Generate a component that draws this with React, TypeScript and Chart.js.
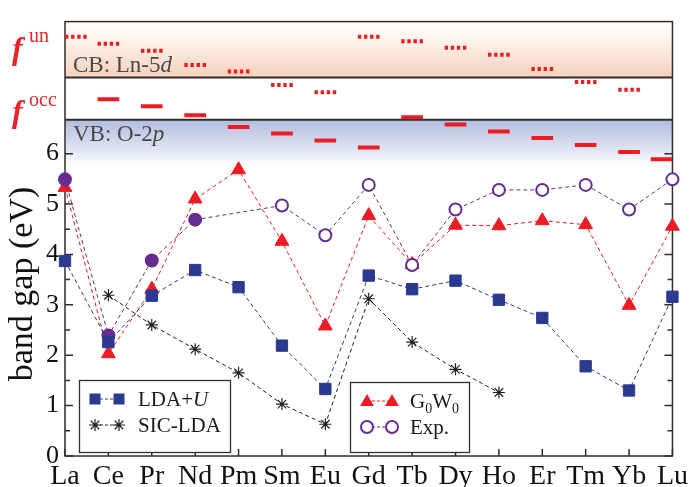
import React, { useEffect, useRef } from 'react';
import { Chart, registerables } from 'chart.js';

Chart.register(...registerables);

// ---------------- data ----------------
const ELEMENTS = ['La', 'Ce', 'Pr', 'Nd', 'Pm', 'Sm', 'Eu', 'Gd', 'Tb', 'Dy', 'Ho', 'Er', 'Tm', 'Yb', 'Lu'];
const LDA_U = [3.87, 2.26, 3.18, 3.69, 3.35, 2.19, 1.33, 3.58, 3.31, 3.48, 3.10, 2.74, 1.78, 1.30, 3.16];
const G0W0 = [5.33, 2.03, 3.31, 5.10, 5.68, 4.26, 2.58, 4.77, 3.80, 4.58, 4.57, 4.67, 4.59, 2.99, 4.56];
const EXP = [5.49, 2.39, 3.88, 4.69, null, 4.97, 4.38, 5.38, 3.79, 4.89, 5.28, 5.28, 5.38, 4.89, 5.49];
const SIC_LDA = [null, 3.19, 2.60, 2.12, 1.65, 1.03, 0.63, 3.12, 2.26, 1.72, 1.26, null, null, null, null];
const F_UNOCC = [8.32, 8.18, 8.04, 7.76, 7.63, 7.36, 7.22, 8.32, 8.23, 8.10, 7.96, 7.68, 7.42, 7.27, null];
const F_OCC = [null, 7.08, 6.94, 6.76, 6.53, 6.40, 6.26, 6.12, 6.72, 6.58, 6.44, 6.31, 6.17, 6.03, 5.89];
const CB_EDGE = 7.51;
const VB_EDGE = 6.67;
const VB_FADE = 5.6;
const Y_MAX = 8.62;
const Y_TICK_MAX = 6;
const Y_TICK_STEP = 0.5;

// ---------------- styles ----------------
const BLUE = '#2B3990';
const RED = '#ED1C24';
const PURPLE = '#662D91';
const BLACK = '#231F20';
const AXIS = '#2E2E2E';
const SERIF = '"Liberation Serif", "Times New Roman", serif';
const EXP_FILLED = [true, true, true, true, false, false, false, false, false, false, false, false, false, false, false];

const toPoints = (arr: (number | null)[]) => arr.map((v, i) => ({ x: i, y: v }));

function levelSegments(values: (number | null)[], half = 0.25) {
  const n = values.length;
  const pts: { x: number; y: number | null }[] = [];
  values.forEach((v, i) => {
    if (v == null) return;
    let a = i - half;
    let b = i + half;
    if (a < 0) { b -= a; a = 0; }
    if (b > n - 1) { a -= b - (n - 1); b = n - 1; }
    pts.push({ x: a, y: v }, { x: b, y: v }, { x: b, y: null });
  });
  return pts;
}

type Part = { t: string; f: string; dy?: number };
function drawRich(ctx: CanvasRenderingContext2D, x: number, y: number, parts: Part[]) {
  let cx = x;
  for (const p of parts) {
    ctx.font = p.f;
    ctx.fillText(p.t, cx, y + (p.dy || 0));
    cx += ctx.measureText(p.t).width;
  }
}

function mSquare(ctx: CanvasRenderingContext2D, x: number, y: number, s: number) {
  ctx.fillStyle = BLUE;
  ctx.fillRect(x - s / 2, y - s / 2, s, s);
}
function mTriangle(ctx: CanvasRenderingContext2D, x: number, y: number, r: number) {
  const k = Math.sin((2 * Math.PI) / 3) * r;
  ctx.fillStyle = RED;
  ctx.beginPath();
  ctx.moveTo(x, y - r);
  ctx.lineTo(x + k, y + r / 2);
  ctx.lineTo(x - k, y + r / 2);
  ctx.closePath();
  ctx.fill();
}
function mCircle(ctx: CanvasRenderingContext2D, x: number, y: number, r: number) {
  ctx.fillStyle = '#fff';
  ctx.strokeStyle = PURPLE;
  ctx.lineWidth = 2;
  ctx.setLineDash([]);
  ctx.beginPath();
  ctx.arc(x, y, r, 0, Math.PI * 2);
  ctx.fill();
  ctx.stroke();
}
function mStar(ctx: CanvasRenderingContext2D, x: number, y: number, r: number) {
  ctx.strokeStyle = BLACK;
  ctx.lineWidth = 1.2;
  ctx.setLineDash([]);
  ctx.beginPath();
  for (let k = 0; k < 4; k++) {
    const a = (k * Math.PI) / 4;
    ctx.moveTo(x - Math.cos(a) * r, y - Math.sin(a) * r);
    ctx.lineTo(x + Math.cos(a) * r, y + Math.sin(a) * r);
  }
  ctx.stroke();
}
function dashLink(ctx: CanvasRenderingContext2D, x1: number, x2: number, y: number, color: string) {
  ctx.save();
  ctx.strokeStyle = color;
  ctx.lineWidth = 1;
  ctx.setLineDash([3, 2]);
  ctx.beginPath();
  ctx.moveTo(x1, y);
  ctx.lineTo(x2, y);
  ctx.stroke();
  ctx.restore();
}

const decorPlugin = {
  id: 'decor',
  beforeDatasetsDraw(chart: any) {
    const { ctx, chartArea, scales } = chart;
    const { left, right, top, bottom } = chartArea;
    const y = scales.y;
    const x = scales.x;
    const yCB = y.getPixelForValue(CB_EDGE);
    const yVB = y.getPixelForValue(VB_EDGE);
    const yFade = y.getPixelForValue(VB_FADE);
    ctx.save();
    let g = ctx.createLinearGradient(0, top, 0, yCB);
    g.addColorStop(0, '#FFFFFF');
    g.addColorStop(0.3, '#FEF5EF');
    g.addColorStop(1, '#F6D0BC');
    ctx.fillStyle = g;
    ctx.fillRect(left, top, right - left, yCB - top);
    g = ctx.createLinearGradient(0, yVB, 0, yFade);
    g.addColorStop(0, '#B2BCDD');
    g.addColorStop(0.6, '#E4E8F4');
    g.addColorStop(1, 'rgba(255,255,255,0)');
    ctx.fillStyle = g;
    ctx.fillRect(left, yVB, right - left, yFade - yVB);

    ctx.strokeStyle = AXIS;
    ctx.lineWidth = 2;
    ctx.beginPath();
    ctx.moveTo(left, yCB);
    ctx.lineTo(right, yCB);
    ctx.moveTo(left, yVB);
    ctx.lineTo(right, yVB);
    ctx.stroke();

    ctx.lineWidth = 1.5;
    ctx.strokeRect(left, top, right - left, bottom - top);

    // inward ticks
    ctx.beginPath();
    for (const t of y.ticks) {
      const py = y.getPixelForValue(t.value);
      const len = Number.isInteger(t.value) ? 8 : 5;
      ctx.moveTo(left, py);
      ctx.lineTo(left + len, py);
      ctx.moveTo(right, py);
      ctx.lineTo(right - len, py);
    }
    for (const t of x.ticks) {
      const px = x.getPixelForValue(t.value);
      ctx.moveTo(px, bottom);
      ctx.lineTo(px, bottom - 7);
    }
    ctx.stroke();

    // band labels
    ctx.fillStyle = '#484848';
    ctx.textAlign = 'left';
    ctx.textBaseline = 'alphabetic';
    drawRich(ctx, left + 8, yCB - 6, [
      { t: 'CB: Ln-5', f: `23px ${SERIF}` },
      { t: 'd', f: `italic 23px ${SERIF}` },
    ]);
    drawRich(ctx, left + 8, yVB + 21, [
      { t: 'VB: O-2', f: `23px ${SERIF}` },
      { t: 'p', f: `italic 23px ${SERIF}` },
    ]);

    // f labels in the margin
    ctx.fillStyle = '#E8232B';
    drawRich(ctx, 12, yCB - 19, [{ t: 'f', f: `bold italic 32px ${SERIF}` }]);
    drawRich(ctx, 29, yCB - 36, [{ t: 'un', f: `20px ${SERIF}` }]);
    drawRich(ctx, 12, yVB + 2, [{ t: 'f', f: `bold italic 32px ${SERIF}` }]);
    drawRich(ctx, 29, yVB - 14, [{ t: 'occ', f: `20px ${SERIF}` }]);

    // y title
    ctx.save();
    ctx.translate(32, 284);
    ctx.rotate(-Math.PI / 2);
    ctx.fillStyle = '#111';
    ctx.textAlign = 'center';
    ctx.font = `34px ${SERIF}`;
    ctx.fillText('band gap (eV)', 0, 0);
    ctx.restore();
    ctx.restore();
  },
  afterDatasetsDraw(chart: any) {
    const { ctx } = chart;
    ctx.save();
    ctx.textAlign = 'left';
    ctx.textBaseline = 'alphabetic';
    // legend box 1
    ctx.fillStyle = '#fff';
    ctx.strokeStyle = AXIS;
    ctx.lineWidth = 1.3;
    ctx.fillRect(79.5, 380.5, 151, 72);
    ctx.strokeRect(79.5, 380.5, 151, 72);
    dashLink(ctx, 95, 119, 399, BLUE);
    mSquare(ctx, 95, 399, 11);
    mSquare(ctx, 119, 399, 11);
    dashLink(ctx, 95, 119, 425, BLACK);
    mStar(ctx, 95, 425, 6);
    mStar(ctx, 119, 425, 6);
    ctx.fillStyle = '#1a1a1a';
    drawRich(ctx, 138, 406, [
      { t: 'LDA+', f: `21px ${SERIF}` },
      { t: 'U', f: `italic 21px ${SERIF}` },
    ]);
    drawRich(ctx, 138, 432, [{ t: 'SIC-LDA', f: `21px ${SERIF}` }]);

    // legend box 2
    ctx.fillStyle = '#fff';
    ctx.strokeStyle = AXIS;
    ctx.lineWidth = 1.3;
    ctx.fillRect(350.5, 382.5, 119, 70);
    ctx.strokeRect(350.5, 382.5, 119, 70);
    dashLink(ctx, 367, 392, 401, RED);
    mTriangle(ctx, 367, 402, 8);
    mTriangle(ctx, 392, 402, 8);
    dashLink(ctx, 367, 392, 427, PURPLE);
    mCircle(ctx, 367, 427, 6);
    mCircle(ctx, 392, 427, 6);
    ctx.fillStyle = '#1a1a1a';
    drawRich(ctx, 410, 408, [
      { t: 'G', f: `21px ${SERIF}` },
      { t: '0', f: `14px ${SERIF}`, dy: 5 },
      { t: 'W', f: `21px ${SERIF}` },
      { t: '0', f: `14px ${SERIF}`, dy: 5 },
    ]);
    drawRich(ctx, 410, 434, [{ t: 'Exp.', f: `21px ${SERIF}` }]);
    ctx.restore();
  },
};

export default function App() {
  const ref = useRef<HTMLCanvasElement | null>(null);
  useEffect(() => {
    if (!ref.current) return;
    const dash = [4, 3];
    const chart = new Chart(ref.current, {
      type: 'line',
      data: {
        datasets: [
          {
            label: 'LDA+U',
            data: toPoints(LDA_U),
            borderColor: BLUE,
            backgroundColor: BLUE,
            borderWidth: 1,
            borderDash: dash,
            pointStyle: 'rect',
            pointRadius: 8,
            pointBorderWidth: 1,
            pointBackgroundColor: BLUE,
            pointBorderColor: BLUE,
            clip: false,
            order: 1,
          } as any,
          {
            label: 'Exp.',
            data: toPoints(EXP),
            borderColor: PURPLE,
            borderWidth: 1,
            borderDash: dash,
            spanGaps: true,
            pointStyle: 'circle',
            pointRadius: 6,
            pointBorderWidth: 2,
            pointBorderColor: PURPLE,
            pointBackgroundColor: EXP_FILLED.map((f) => (f ? PURPLE : '#ffffff')),
            clip: false,
            order: 2,
          } as any,
          {
            label: 'G0W0',
            data: toPoints(G0W0),
            borderColor: RED,
            borderWidth: 1,
            borderDash: dash,
            pointStyle: 'triangle',
            pointRadius: 8,
            pointBorderWidth: 1,
            pointBorderColor: RED,
            pointBackgroundColor: RED,
            clip: false,
            order: 3,
          } as any,
          {
            label: 'SIC-LDA',
            data: toPoints(SIC_LDA),
            borderColor: BLACK,
            borderWidth: 1,
            borderDash: dash,
            spanGaps: false,
            pointStyle: 'star',
            pointRadius: 6,
            pointBorderWidth: 1.2,
            pointBorderColor: BLACK,
            pointBackgroundColor: BLACK,
            clip: false,
            order: 4,
          } as any,
          {
            label: 'f occ',
            data: levelSegments(F_OCC),
            borderColor: RED,
            borderWidth: 4,
            borderCapStyle: 'butt',
            pointRadius: 0,
            spanGaps: false,
            order: 5,
          } as any,
          {
            label: 'f un',
            data: levelSegments(F_UNOCC),
            borderColor: RED,
            borderWidth: 4,
            borderDash: [3.4, 2.7],
            borderCapStyle: 'butt',
            pointRadius: 0,
            spanGaps: false,
            order: 6,
          } as any,
        ],
      },
      options: {
        responsive: false,
        animation: false,
        events: [],
        layout: { padding: { top: 8, right: 19, left: 0, bottom: 0 } },
        plugins: { legend: { display: false }, tooltip: { enabled: false } },
        scales: {
          x: {
            type: 'linear',
            min: 0,
            max: ELEMENTS.length - 1,
            afterFit: (s: any) => { s.height = 31; },
            afterBuildTicks: (s: any) => { s.ticks = ELEMENTS.map((_, i) => ({ value: i })); },
            grid: { display: false, drawTicks: false },
            border: { display: false },
            ticks: {
              autoSkip: false,
              maxRotation: 0,
              padding: 4,
              color: '#111',
              font: { family: SERIF, size: 28 },
              callback: (v: any) => ELEMENTS[v] ?? '',
            },
          },
          y: {
            type: 'linear',
            min: 0,
            max: Y_MAX,
            afterFit: (s: any) => { s.width = 65; },
            afterBuildTicks: (s: any) => {
              const t = [];
              for (let v = 0; v <= Y_TICK_MAX + 1e-9; v += Y_TICK_STEP) t.push({ value: Math.round(v * 10) / 10 });
              s.ticks = t;
            },
            grid: { display: false, drawTicks: false },
            border: { display: false },
            ticks: {
              padding: 6,
              color: '#111',
              font: { family: SERIF, size: 26 },
              callback: (v: any) => (Number.isInteger(v) ? String(v) : ''),
            },
          },
        },
      },
      plugins: [decorPlugin],
    } as any);
    return () => chart.destroy();
  }, []);

  return (
    <div style={{ position: 'absolute', left: 0, top: 0, width: 692, height: 487, background: '#fff' }}>
      <canvas ref={ref} width={692} height={487} />
    </div>
  );
}
